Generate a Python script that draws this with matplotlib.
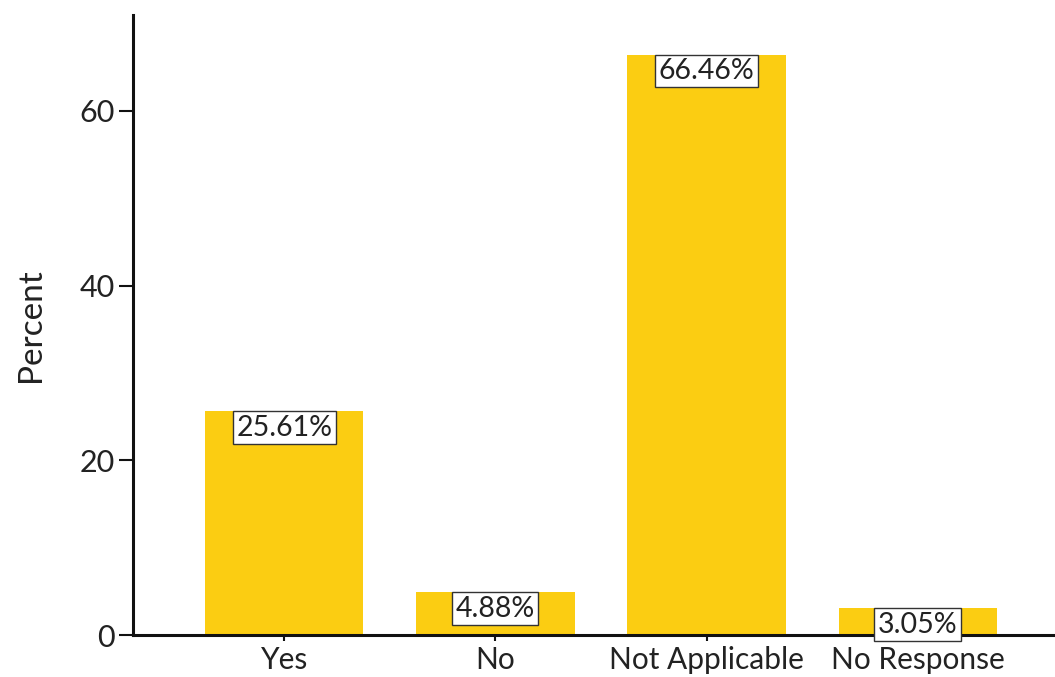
import matplotlib.pyplot as plt

# Survey responses and their shares
categories = ['Yes', 'No', 'Not Applicable', 'No Response']
percents = [25.61, 4.88, 66.46, 3.05]
y_ticks = [0, 20, 40, 60]

plt.rcParams['font.family'] = ['Lato', 'DejaVu Sans']

fig = plt.figure(figsize=(10.55, 6.77), dpi=100)
ax = fig.add_axes([0.126, 0.062, 0.874, 0.916])

x = list(range(len(categories)))
bars = ax.bar(x, percents, width=0.75, color='#FBCD12', zorder=2)

# Value labels sit in white boxes hanging from the top of each bar
for xi, val in zip(x, percents):
    ax.annotate(f'{val:.2f}%', (xi, val), xytext=(0, -2.5),
                textcoords='offset points', ha='center', va='top',
                fontsize=20.5, color='#222222', zorder=3,
                bbox=dict(boxstyle='square,pad=0.12', facecolor='white',
                          edgecolor='#333333', linewidth=1.0))

ax.set_xlim(-0.716, 3.65)
ax.set_ylim(0, 71)
ax.set_xticks(x)
ax.set_xticklabels(categories, fontsize=21.5, color='#222222')
ax.set_yticks(y_ticks)
ax.set_yticklabels([str(t) for t in y_ticks], fontsize=22, color='#222222')
ax.set_ylabel('Percent', fontsize=24, color='#222222', labelpad=24)

for side in ['top', 'right']:
    ax.spines[side].set_visible(False)
for side in ['left', 'bottom']:
    ax.spines[side].set_linewidth(2.2)
    ax.spines[side].set_color('#111111')

ax.tick_params(axis='y', length=10, width=1.5, color='#111111', pad=3)
ax.tick_params(axis='x', length=4, width=1.5, color='#111111', pad=4)

fig.savefig('out.png', dpi=100)
